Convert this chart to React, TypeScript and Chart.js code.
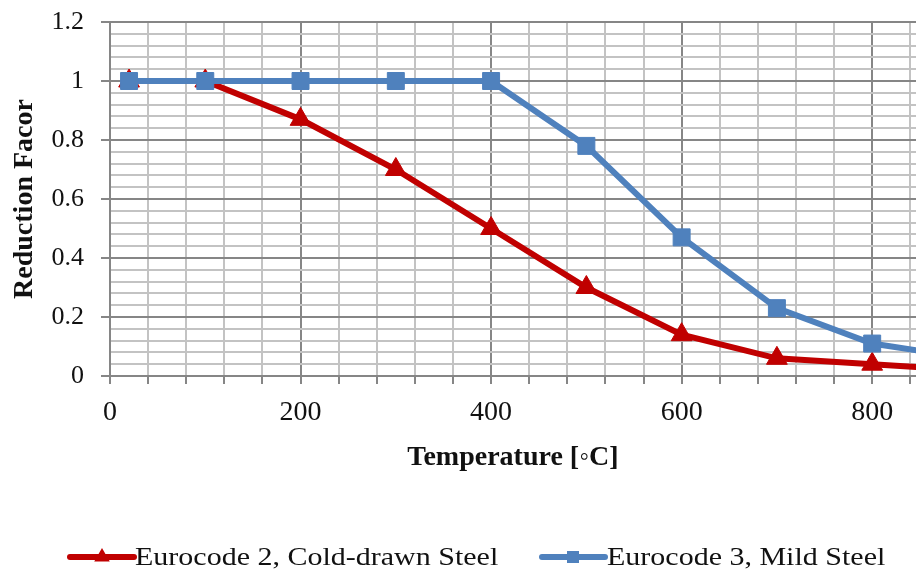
import React, { useEffect, useRef } from "react";
import { Chart, registerables } from "chart.js";

Chart.register(...registerables);

const temperatures = [20, 100, 200, 300, 400, 500, 600, 700, 800, 900];
const coldDrawn = [1, 1, 0.87, 0.7, 0.5, 0.3, 0.14, 0.06, 0.04, 0.02];
const mildSteel = [1, 1, 1, 1, 1, 0.78, 0.47, 0.23, 0.11, 0.06];

const seriesNames = ["Eurocode 2, Cold-drawn Steel", "Eurocode 3, Mild Steel"];
const xTitle = "Temperature [\u25E6C]";
const yTitle = "Reduction Facor";

const RED = "#C00000";
const BLUE = "#4F81BD";
const MAJOR = "#868686";
const MINOR = "#C3C3C3";
const FONT = "'Liberation Serif', 'Times New Roman', serif";

const legendPlugin = {
  id: "customLegend",
  afterDraw(chart: any) {
    const ctx = chart.ctx as CanvasRenderingContext2D;
    ctx.save();
    const cy = 557;
    const items = [
      { name: seriesNames[0], color: RED, shape: "triangle", x0: 70, x1: 134, mx: 102, tx: 135 },
      { name: seriesNames[1], color: BLUE, shape: "rect", x0: 542, x1: 605, mx: 573, tx: 607 },
    ];
    for (const it of items) {
      ctx.strokeStyle = it.color;
      ctx.fillStyle = it.color;
      ctx.lineWidth = 6;
      ctx.lineCap = "round";
      ctx.beginPath();
      ctx.moveTo(it.x0, cy);
      ctx.lineTo(it.x1, cy);
      ctx.stroke();
      ctx.beginPath();
      if (it.shape === "triangle") {
        const r = 9;
        ctx.moveTo(it.mx, cy - r);
        ctx.lineTo(it.mx + r * 0.866, cy + r * 0.5);
        ctx.lineTo(it.mx - r * 0.866, cy + r * 0.5);
        ctx.closePath();
      } else {
        ctx.rect(it.mx - 6, cy - 6, 12, 12);
      }
      ctx.fill();
      ctx.save();
      ctx.translate(it.tx, 565);
      ctx.scale(1.2, 1);
      ctx.fillStyle = "#111";
      ctx.font = `25px ${FONT}`;
      ctx.textBaseline = "alphabetic";
      ctx.textAlign = "left";
      ctx.fillText(it.name, 0, 0);
      ctx.restore();
    }
    ctx.restore();
  },
};

const isMajorX = (v: number) => Math.round(v) % 200 === 0;
const isMajorY = (v: number) => Math.round(v * 100) % 20 === 0;

const zeroPad = (scale: any) => {
  scale.paddingTop = 0;
  scale.paddingBottom = 0;
  scale.paddingLeft = 0;
  scale.paddingRight = 0;
};

export default function App() {
  const ref = useRef<HTMLCanvasElement>(null);
  useEffect(() => {
    if (!ref.current) return;
    const chart = new Chart(ref.current, {
      type: "line",
      data: {
        datasets: [
          {
            label: seriesNames[0],
            data: temperatures.map((t, i) => ({ x: t, y: coldDrawn[i] })),
            borderColor: RED,
            backgroundColor: RED,
            borderWidth: 6,
            pointStyle: "triangle",
            pointRadius: 12,
            pointBorderWidth: 1,
            pointBorderColor: RED,
            pointBackgroundColor: RED,
            tension: 0,
            order: 1,
          },
          {
            label: seriesNames[1],
            data: temperatures.map((t, i) => ({ x: t, y: mildSteel[i] })),
            borderColor: BLUE,
            backgroundColor: BLUE,
            borderWidth: 6,
            pointStyle: "rect",
            pointRadius: 12,
            pointBorderWidth: 1,
            pointBorderColor: BLUE,
            pointBackgroundColor: BLUE,
            tension: 0,
            order: 0,
          },
        ],
      },
      options: {
        responsive: false,
        animation: false,
        layout: { autoPadding: false, padding: { top: 22, left: 0, right: 0, bottom: 0 } },
        plugins: { legend: { display: false }, tooltip: { enabled: false } },
        scales: {
          x: {
            type: "linear",
            min: 0,
            max: 846,
            afterFit: (scale: any) => {
              scale.height = 196;
              zeroPad(scale);
            },
            ticks: {
              stepSize: 40,
              includeBounds: false,
              autoSkip: false,
              maxRotation: 0,
              padding: 12,
              color: "#111",
              font: { family: FONT, size: 28 },
              callback: (v: any) => (isMajorX(Number(v)) ? String(v) : ""),
            },
            grid: {
              color: (c: any) => (c.tick && isMajorX(c.tick.value) ? MAJOR : MINOR),
              lineWidth: 2,
              tickLength: 8,
              tickColor: MAJOR,
            },
            border: { color: MAJOR, width: 2 },
            title: {
              display: true,
              text: xTitle,
              color: "#111",
              font: { family: FONT, size: 28, weight: "bold" },
              padding: { top: 0, bottom: 97 },
            },
          },
          y: {
            type: "linear",
            min: 0,
            max: 1.2,
            afterFit: (scale: any) => {
              scale.width = 110;
              zeroPad(scale);
            },
            ticks: {
              stepSize: 0.04,
              autoSkip: false,
              padding: 17,
              color: "#111",
              font: { family: FONT, size: 26 },
              callback: (v: any) =>
                isMajorY(Number(v)) ? String(Math.round(Number(v) * 10) / 10) : "",
            },
            grid: {
              color: (c: any) => (c.tick && isMajorY(c.tick.value) ? MAJOR : MINOR),
              lineWidth: 2,
              tickLength: 9,
              tickColor: (c: any) =>
                c.tick && isMajorY(c.tick.value) ? MAJOR : "rgba(0,0,0,0)",
            },
            border: { color: MAJOR, width: 2 },
            title: {
              display: true,
              text: yTitle,
              color: "#111",
              font: { family: FONT, size: 28, weight: "bold" },
              padding: { top: 8, bottom: 0 },
            },
          },
        },
      },
      plugins: [legendPlugin],
    });
    return () => chart.destroy();
  }, []);
  return (
    <div style={{ position: "fixed", left: 0, top: 0, width: 916, height: 572, background: "#fff" }}>
      <canvas ref={ref} width={916} height={572} style={{ display: "block" }} />
    </div>
  );
}
